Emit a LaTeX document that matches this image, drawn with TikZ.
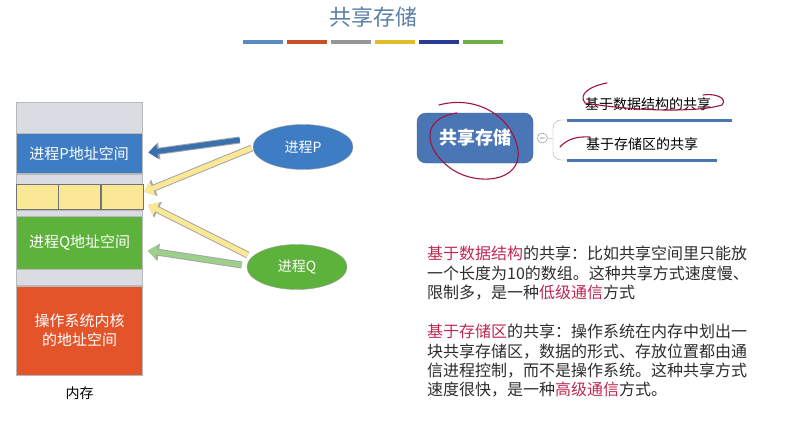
\documentclass[tikz,border=0pt]{standalone}
\usepackage{fontspec}
\setmainfont{Noto Sans CJK SC}
\usetikzlibrary{calc,positioning,arrows.meta,shapes.geometric}

\definecolor{titleblue}{RGB}{91,127,166}
\definecolor{pblue}{RGB}{62,124,196}
\definecolor{qgreen}{RGB}{92,178,58}
\definecolor{osred}{RGB}{228,84,42}
\definecolor{gapgray}{RGB}{218,220,228}
\definecolor{cellyellow}{RGB}{250,232,150}
\definecolor{rootblue}{RGB}{74,118,182}
\definecolor{wordred}{RGB}{190,40,80}
\definecolor{markred}{RGB}{160,20,60}
\definecolor{bodygray}{RGB}{45,45,45}

\begin{document}
\begin{tikzpicture}[
        x=1pt, y=-1pt,
        mem block/.style = {
            draw=gray!55,
            inner sep=0pt,
            minimum width=126pt,
            text=white,
            align=center,
            font=\fontsize{15}{19}\selectfont},
        gap block/.style = {mem block, fill=gapgray},
        cell block/.style = {
            draw=black!55,
            fill=cellyellow,
            inner sep=0pt,
            minimum width=42pt,
            minimum height=25pt},
        proc/.style = {
            ellipse,
            draw=black!40,
            minimum width=100pt,
            minimum height=45pt,
            text=white,
            font=\fontsize{14}{16}\selectfont},
        fat arrow/.style = {
            draw=#1,
            line width=5pt,
            -{Triangle[length=9pt,width=14pt]},
            preaction={draw=black!35, line width=7pt,
                -{Triangle[length=11pt,width=17pt]}}},
        branch text/.style = {inner sep=0pt, font=\fontsize{14}{16}\selectfont},
        under line/.style = {draw=rootblue, line width=3pt},
        pen mark/.style = {draw=markred, line width=1.1pt, line cap=round},
        para/.style = {
            anchor=north west,
            inner sep=0pt,
            align=left,
            text=bodygray,
            font=\fontsize{16}{19.3}\selectfont}
    ]
    \useasboundingbox (0,0) rectangle (795,423);

    % title and colour bars
    \node[text=titleblue, font=\fontsize{22}{24}\selectfont] (title) at (373,17) {共享存储};
    \foreach \c [count=\i from 0] in {{90,140,195},{200,80,40},{150,150,150},{225,190,40},{40,60,150},{110,175,70}} {
        \definecolor{barcol}{RGB}{\c}
        \fill[barcol] (243+\i*44,40) rectangle ++(40,4);
    }

    % memory column
    \node[gap block, minimum height=31pt, anchor=north west] (gapA) at (16,102) {};
    \node[mem block, fill=pblue, minimum height=40pt, below=0pt of gapA] (blockP) {进程P地址空间};
    \node[gap block, minimum height=10pt, below=0pt of blockP] (gapB) {};
    \node[cell block, below right=0pt and 0pt of gapB.south west] (cellA) {};
    \node[cell block, right=0pt of cellA] (cellB) {};
    \node[cell block, right=0pt of cellB] (cellC) {};
    \node[gap block, minimum height=6pt, below=0pt of cellB] (gapC) {};
    \node[mem block, fill=qgreen, minimum height=53pt, below=0pt of gapC] (blockQ) {进程Q地址空间};
    \node[gap block, minimum height=16pt, below=0pt of blockQ] (gapD) {};
    \node[mem block, fill=osred, minimum height=89pt, below=0pt of gapD] (blockOS) {操作系统内核\\的地址空间};
    \node[below=11pt of blockOS, inner sep=0pt, font=\fontsize{14}{16}\selectfont] (memlabel) {内存};

    % processes
    \node[proc, fill=pblue] (procP) at (303,147) {进程P};
    \node[proc, fill=qgreen] (procQ) at (297,267) {进程Q};

    \draw[fat arrow=pblue!90!black] ($(procP.west)+(-13,-7)$) -- ($(blockP.east)+(6,-1)$);
    \draw[fat arrow=cellyellow] ($(procP.west)+(-1,1)$) -- ($(cellC.east)+(1,-5)$);
    \draw[fat arrow=cellyellow] ($(procQ.west)+(1,-12)$) -- ($(cellC.east)+(5,8)$);
    \draw[fat arrow=qgreen!60] ($(procQ.west)+(-5,-2)$) -- ($(blockQ.east)+(5,8)$);

    % mind map
    \node[draw=rootblue!80!black, fill=rootblue, rounded corners=9pt,
        minimum width=116pt, minimum height=50pt, text=white,
        font=\fontsize{18}{20}\selectfont\bfseries] (root) at (475,138) {共享存储};
    \node[circle, draw=gray, fill=white, minimum size=10pt, inner sep=0pt,
        right=4pt of root, font=\fontsize{8}{8}\selectfont] (fold) {$-$};
    \coordinate (fork) at (553,139);
    \coordinate (brA) at (567,120);
    \coordinate (brAend) at (732,120);
    \coordinate (brB) at (567,160);
    \coordinate (brBend) at (717,160);
    \draw[gray!70] (fold.east) -- (fork);
    \draw[gray!70, rounded corners=8pt] (brA) -| (fork) |- (brB);
    \draw[under line] (brA) -- (brAend);
    \draw[under line] (brB) -- (brBend);
    \node[branch text] (kindA) at (648,104) {基于数据结构的共享};
    \node[branch text] (kindB) at (642,144) {基于存储区的共享};

    % hand marks
    \draw[pen mark] (439,105) .. controls (475,95) and (512,115) .. (518,150)
        .. controls (522,182) and (478,186) .. (453,170)
        .. controls (423,150) and (420,118) .. (457,113);
    \draw[pen mark] (607,83) .. controls (590,86) and (578,94) .. (585,103)
        .. controls (640,112) and (700,112) .. (722,105)
        .. controls (728,98) and (715,93) .. (703,95);
    \draw[pen mark] (560,147) .. controls (566,140) and (576,136) .. (590,137);

    % explanations
    \node[para] (textA) at (427,246) {\textcolor{wordred}{基于数据结构}的共享：比如共享空间里只能放\\
        一个长度为10的数组。这种共享方式速度慢、\\
        限制多，是一种\textcolor{wordred}{低级通信}方式};
    \node[para] (textB) at (427,324) {\textcolor{wordred}{基于存储区}的共享：操作系统在内存中划出一\\
        块共享存储区，数据的形式、存放位置都由通\\
        信进程控制，而不是操作系统。这种共享方式\\
        速度很快，是一种\textcolor{wordred}{高级通信}方式。};
\end{tikzpicture}
\end{document}
